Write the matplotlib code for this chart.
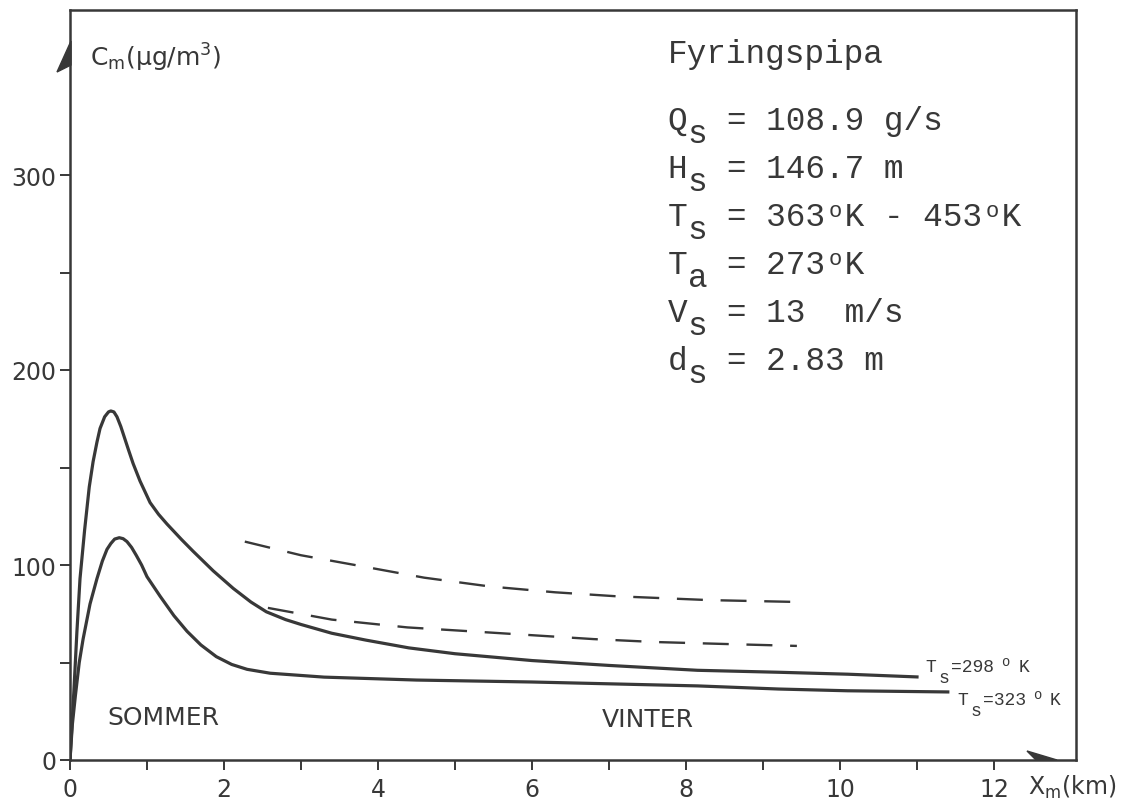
import matplotlib
matplotlib.use("Agg")
import matplotlib.pyplot as plt
from matplotlib.patches import Polygon

W, H = 1135, 803
INK = "#383838"

# distance from source (km) and ground concentration (ug/m3)
x_298 = [0, 0.05, 0.09, 0.13, 0.19, 0.25, 0.3, 0.35, 0.39, 0.45, 0.5, 0.53, 0.57,
         0.61, 0.66, 0.71, 0.76, 0.82, 0.91, 1.04, 1.15, 1.26, 1.45, 1.6, 1.86,
         2.12, 2.35, 2.55, 2.8, 3.0, 3.4, 3.84, 4.4, 5.0, 6.0, 7.0, 8.15, 9.2, 10.1, 11.0]
c_298 = [0, 35, 66, 93, 118, 140, 153, 163, 170, 176, 178.5, 179, 178.5,
         176, 171, 165, 159, 152, 143, 132, 126, 121, 113, 107, 97,
         88, 81, 76, 72, 69.5, 65, 61.5, 57.5, 54.5, 51, 48.5, 46, 45, 44, 42.6]

x_323 = [0, 0.03, 0.07, 0.12, 0.17, 0.26, 0.35, 0.42, 0.48, 0.53, 0.58, 0.64, 0.69,
         0.74, 0.8, 0.86, 0.93, 1.0, 1.17, 1.35, 1.52, 1.7, 1.9, 2.1, 2.3, 2.6,
         3.3, 4.5, 6.0, 8.15, 9.2, 10.1, 11.4]
c_323 = [0, 18, 33, 50, 62, 80, 93, 102, 108, 111, 113.3, 114, 113.5,
         112, 109, 105, 100, 94, 84, 74, 66, 59, 53, 49, 46.5, 44.5,
         42.5, 41, 40, 38, 36.4, 35.5, 34.9]

# winter curves (dashed)
x_w1 = [2.27, 3.0, 3.84, 4.6, 5.45, 6.3, 7.08, 8.3, 9.5]
c_w1 = [112, 105, 99, 93.5, 89, 86, 84, 82, 81]
x_w2 = [2.57, 3.4, 4.38, 5.2, 6.0, 6.8, 7.6, 8.5, 9.44]
c_w2 = [78, 72, 68, 66, 64, 62, 60.5, 59.5, 58.5]

x_major = [0, 2, 4, 6, 8, 10, 12]
x_minor = [1, 3, 5, 7, 9, 11]
y_major = [0, 100, 200, 300]
y_minor = [50, 150, 250]

# symbol, subscript, rest of line, columns holding a raised degree "o"
stack_lines = [
    ("Q", "s", "  = 108.9 g/s", []),
    ("H", "s", "  = 146.7 m", []),
    ("T", "s", "  = 363 K - 453 K", [8, 16]),
    ("T", "a", "  = 273 K", [8]),
    ("V", "s", "  = 13  m/s", []),
    ("d", "s", "  = 2.83 m", []),
]


def fp(x, y):
    # pixel position (from top-left) to figure fraction
    return x / W, 1 - y / H


fig = plt.figure(figsize=(W / 100, H / 100), dpi=100)
ax = fig.add_axes([70 / W, 42 / H, 1006 / W, 750 / H])
ax.set_xlim(0, 1006 / 77)
ax.set_ylim(0, 750 / 1.95)

ax.plot(x_298, c_298, color=INK, lw=2.3, solid_joinstyle="round")
ax.plot(x_323, c_323, color=INK, lw=2.3, solid_joinstyle="round")
ax.plot(x_w1, c_w1, color=INK, lw=1.7, ls=(0, (11, 7.5)))
ax.plot(x_w2, c_w2, color=INK, lw=1.7, ls=(0, (11, 7.5)))

for sp in ax.spines.values():
    sp.set_color(INK)
    sp.set_linewidth(1.8)

ax.set_xticks(x_major)
ax.set_xticks(x_minor, minor=True)
ax.set_yticks(y_major)
ax.set_yticks(y_minor, minor=True)
ax.tick_params(which="both", direction="out", length=7, width=1.4, color=INK,
               labelcolor=INK, labelsize=17)
ax.tick_params(axis="x", pad=5)
ax.tick_params(axis="y", pad=3)

# axis arrows
fig.add_artist(Polygon([fp(71, 42), fp(57, 73), fp(71, 66)], closed=True,
                       transform=fig.transFigure, color=INK))
fig.add_artist(Polygon([fp(1057, 761), fp(1027, 752), fp(1036, 761)], closed=True,
                       transform=fig.transFigure, color=INK))

fig.text(*fp(90, 67), r"C$_{\mathrm{m}}$(μg/m$^{3}$)", fontsize=18, color=INK, va="baseline")
fig.text(*fp(1028, 795), r"X$_{\mathrm{m}}$(km)", fontsize=17, color=INK, va="baseline")
fig.text(*fp(107, 725), "SOMMER", fontsize=18, color=INK, va="baseline")
fig.text(*fp(602, 727), "VINTER", fontsize=18, color=INK, va="baseline")

# parameter block, typewriter style
mono = "Liberation Mono"
fs = 23.6
pitch = 0.6 * fs * 100 / 72
x0 = 668
fig.text(*fp(x0, 63), "Fyringspipa", family=mono, fontsize=fs, color=INK, va="baseline")
for i, (head, sub, rest, sups) in enumerate(stack_lines):
    base = 130 + i * 48
    fig.text(*fp(x0, base), head + rest, family=mono, fontsize=fs, color=INK,
             va="baseline")
    fig.text(*fp(x0 + pitch, base + 13), sub, family=mono, fontsize=fs, color=INK,
             va="baseline")
    for col in sups:
        fig.text(*fp(x0 + (col + 0.5) * pitch, base - 9), "o", family=mono,
                 fontsize=16, color=INK, va="baseline", ha="center")

# curve labels
small = 13
for (tx, ty, val, ox, kx) in [(925, 672, "=298", 1001, 1019),
                              (957, 705, "=323", 1033, 1050)]:
    fig.text(*fp(tx, ty), "T", family=mono, fontsize=small, color=INK, va="baseline")
    fig.text(*fp(tx + 14, ty + 11), "s", family=mono, fontsize=small, color=INK,
             va="baseline")
    fig.text(*fp(tx + 26, ty), val, family=mono, fontsize=small, color=INK,
             va="baseline")
    fig.text(*fp(ox, ty - 6), "o", family=mono, fontsize=10, color=INK, va="baseline")
    fig.text(*fp(kx, ty), "K", family=mono, fontsize=small, color=INK, va="baseline")

fig.savefig("out.png", dpi=100)
